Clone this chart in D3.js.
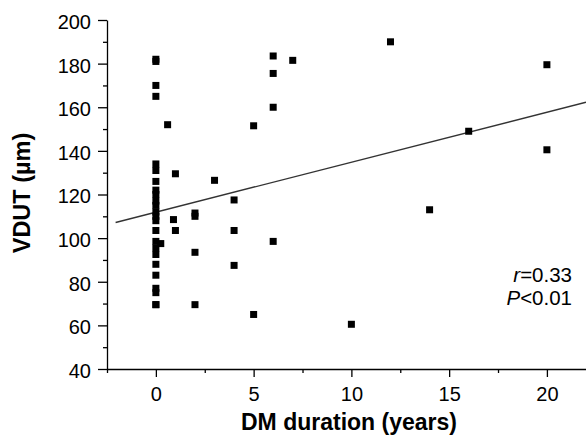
<!DOCTYPE html>
<html>
<head>
<meta charset="utf-8">
<script src="https://cdn.jsdelivr.net/npm/d3@7"></script>
<style>
  body { margin: 0; background: #fff; }
  svg text { font-family: Arial, "Liberation Sans", sans-serif; fill: #000; }
</style>
</head>
<body>
<svg id="chart" width="586" height="436"></svg>
<script>
// DM duration (years) vs VDUT (um)
var durations = [
  0, 0, 0, 0, 0, 0, 0, 0, 0, 0, 0, 0, 0, 0, 0, 0, 0, 0, 0, 0, 0, 0, 0, 0,
  0.25, 0.6, 1, 0.9, 1, 2, 2, 2, 2, 3, 4, 4, 4, 5, 5, 6, 6, 6, 6, 7,
  10, 12, 14, 16, 20, 20
];
var vdut = [
  182, 181, 170, 165, 134, 131, 126, 122, 120, 117, 115, 112, 110, 108, 103.5, 98.5, 95.5, 92.5, 88, 83, 77, 75, 69.5, 69.5,
  97.5, 152, 129.5, 108.5, 103.5, 111.5, 110, 93.5, 69.5, 126.5, 117.5, 103.5, 87.5, 151.5, 65, 183.5, 175.5, 160, 98.5, 181.5,
  60.5, 190, 113, 149, 179.5, 140.5
];
var xTicks = [0, 5, 10, 15, 20];
var xMinor = [-2.5, 2.5, 7.5, 12.5, 17.5];
var yTicks = [40, 60, 80, 100, 120, 140, 160, 180, 200];
var yMinor = [50, 70, 90, 110, 130, 150, 170, 190];
var fitSlope = 2.29, fitIntercept = 111.9;
var fitRange = [-2.06, 22];

var svg = d3.select("#chart"),
    WIDTH = 586,
    HEIGHT = 436,
    MARGINS = { top: 20, right: 0, bottom: 67, left: 107 };

var xScale = d3.scaleLinear().domain([-2.5, 22]).range([MARGINS.left, WIDTH - MARGINS.right]);
var yScale = d3.scaleLinear().domain([40, 200]).range([HEIGHT - MARGINS.bottom, MARGINS.top]);

// minor ticks first, then major axis with labels
svg.append("g")
    .attr("transform", "translate(0," + (HEIGHT - MARGINS.bottom) + ")")
    .call(d3.axisBottom(xScale).tickValues(xMinor).tickSize(4).tickFormat(""))
    .call(function (g) { g.select(".domain").remove(); });

svg.append("g")
    .attr("class", "x axis")
    .attr("transform", "translate(0," + (HEIGHT - MARGINS.bottom) + ")")
    .call(d3.axisBottom(xScale).tickValues(xTicks).tickSizeInner(8).tickSizeOuter(0).tickPadding(10));

svg.append("g")
    .attr("transform", "translate(" + MARGINS.left + ",0)")
    .call(d3.axisLeft(yScale).tickValues(yMinor).tickSize(4).tickFormat(""))
    .call(function (g) { g.select(".domain").remove(); });

svg.append("g")
    .attr("class", "y axis")
    .attr("transform", "translate(" + MARGINS.left + ",0)")
    .call(d3.axisLeft(yScale).tickValues(yTicks).tickSizeInner(9).tickSizeOuter(0).tickPadding(7));

svg.selectAll(".domain, .tick line").attr("stroke", "#000").attr("stroke-width", 1.3);
svg.selectAll(".tick text").attr("font-size", 20).attr("fill", "#000");
svg.selectAll(".y.axis .tick text").attr("dy", "0.42em");

// regression line
var lineGen = d3.line()
    .x(function (d) { return xScale(d); })
    .y(function (d) { return yScale(fitIntercept + fitSlope * d); });

svg.append("path")
    .attr("d", lineGen(fitRange))
    .attr("stroke", "#333")
    .attr("stroke-width", 1.4)
    .attr("fill", "none");

// points
var S = 7;
svg.append("g").selectAll("rect")
    .data(durations)
    .enter().append("rect")
    .attr("x", function (d) { return xScale(d) - S / 2; })
    .attr("y", function (d, i) { return yScale(vdut[i]) - S / 2; })
    .attr("width", S)
    .attr("height", S)
    .attr("fill", "#000");

// axis titles
svg.append("text")
    .attr("x", 349)
    .attr("y", 430)
    .attr("text-anchor", "middle")
    .attr("font-size", 23)
    .attr("font-weight", "bold")
    .text("DM duration (years)");

svg.append("text")
    .attr("transform", "translate(30,193) rotate(-90)")
    .attr("text-anchor", "middle")
    .attr("font-size", 23.5)
    .attr("font-weight", "bold")
    .text("VDUT (\u00b5m)");

// stats
var st = svg.append("g").attr("font-size", 20.5).attr("text-anchor", "end");
var t1 = st.append("text").attr("x", 572).attr("y", 282);
t1.append("tspan").attr("font-style", "italic").text("r");
t1.append("tspan").text("=0.33");
var t2 = st.append("text").attr("x", 572).attr("y", 305);
t2.append("tspan").attr("font-style", "italic").text("P");
t2.append("tspan").text("<0.01");
</script>
</body>
</html>
